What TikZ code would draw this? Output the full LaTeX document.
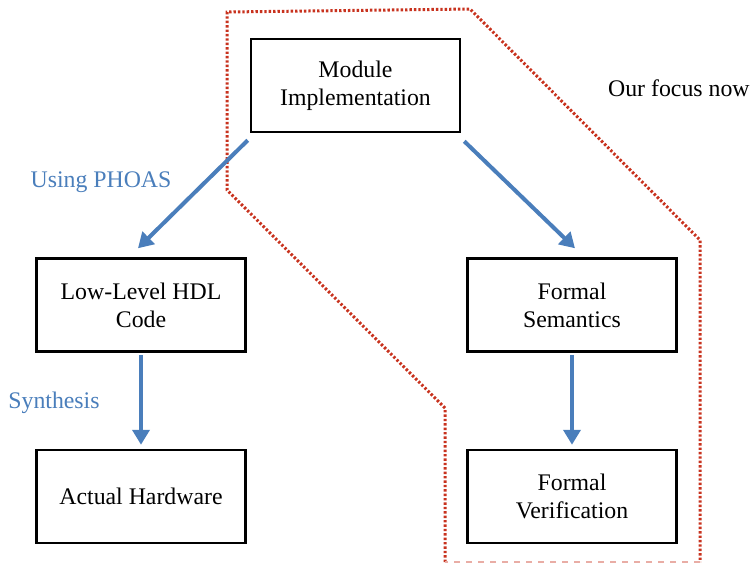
\documentclass[tikz,border=0pt]{standalone}
\usepackage{fontspec}
\setmainfont{Liberation Serif}
\usetikzlibrary{arrows.meta}
\usetikzlibrary{positioning}
\definecolor{flowblue}{RGB}{74,126,187}
\definecolor{focusred}{RGB}{200,50,30}
\tikzset{block/.style = {draw, line width=1.25pt, minimum width=104.5pt,
                         minimum height=46.5pt, align=center,
                         font=\fontsize{11.9}{14}\selectfont},
         flow/.style  = {draw=flowblue, line width=2pt,
                         -{Triangle[width=8.5pt,length=7.5pt]}},
         tag/.style   = {text=flowblue, font=\fontsize{11.9}{14}\selectfont}}

\begin{document}
\begin{tikzpicture}[x=0.5pt, y=-0.5pt]
    \useasboundingbox (0, 0) rectangle (751, 564);

    % region we look at
    \draw [focusred, line width=1.5pt, dash pattern=on 1.2pt off 1pt]
      (445, 562) -- (445, 408) -- (227, 190) -- (227, 12)
      -- (470, 9) -- (700, 240) -- (700, 562);
    \draw [focusred!40, line width=0.6pt, dashed] (700, 562) -- (445, 562);

    \node [block] (mod) at (355.5, 85.5) {Module\\Implementation};
    \node [block] (low) at (141, 305) {Low-Level HDL\\Code};
    \node [block] (sem) at (572, 305) {Formal\\Semantics};
    \node [block] (hw)  at (141, 496.5) {Actual Hardware};
    \node [block] (ver) at (572, 496.5) {Formal\\Verification};

    \node [tag] (phoas) at (101, 182) {Using PHOAS};
    \node [tag] (synth) at (54, 403) {Synthesis};
    \node [anchor=east, inner xsep=0pt, font=\fontsize{11.9}{14}\selectfont] (focus) at (750, 88) {Our focus now};

    \draw [flow] ([shift={(-2,7)}]mod.south west) -- ([shift={(-3,-9)}]low.north);
    \draw [flow] ([shift={(3,8)}]mod.south east) -- ([shift={(3,-9)}]sem.north);
    \draw [flow, shorten <=1pt, shorten >=2pt] (low.south) -- (hw.north);
    \draw [flow, shorten <=1pt, shorten >=2pt] (sem.south) -- (ver.north);
  \end{tikzpicture}
\end{document}
